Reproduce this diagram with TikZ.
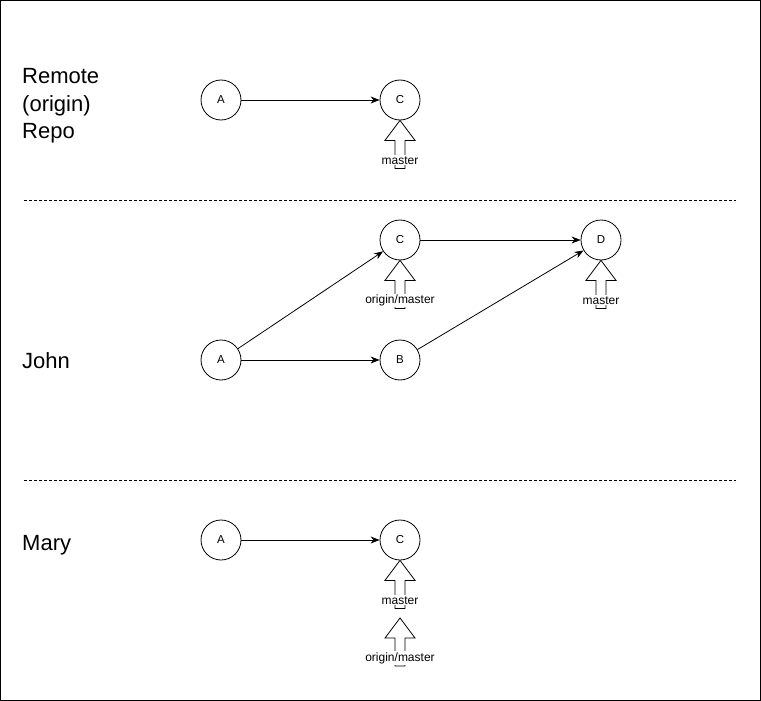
\documentclass[tikz,border=0pt]{standalone}
\usepackage{fontspec}
\setmainfont{Liberation Sans}
\usetikzlibrary{arrows.meta}
\begin{document}
\begin{tikzpicture}[x=1pt,y=-1pt,
  commit/.style={circle, draw, line width=0.8pt, minimum size=40pt, inner sep=0pt, font=\fontsize{11.5}{13}\selectfont},
  link/.style={draw, line width=0.8pt, -{Stealth[length=9pt,width=7pt]}},
  lane/.style={anchor=base west, align=left, inner sep=0pt, font=\fontsize{22}{27.7}\selectfont},
  sep/.style={dashed, line width=0.6pt, dash pattern=on 3pt off 2pt},
  reflabel/.style={fill=white, inner sep=1pt, font=\fontsize{12}{13}\selectfont},
  pics/pointer/.style={code={
    \draw[fill=white, line width=0.8pt] (0,0) -- (15,20) -- (5,20) -- (5,48) -- (-5,48) -- (-5,20) -- (-15,20) -- cycle;
    \node[reflabel] at (0,40) {#1};
  }}]
\useasboundingbox (0,0) rectangle (761,701);
\draw[line width=0.8pt] (0.5,0.5) rectangle (760.5,700.5);

% lane labels (base anchor sits on the last line's baseline)
\node[lane] (lremote) at (22,138.7) {Remote\\(origin)\\Repo};
\node[lane] (ljohn) at (22,368) {John};
\node[lane] (lmary) at (22,550) {Mary};

% lane separators
\coordinate (s1a) at (24,200); \coordinate (s1b) at (736,200);
\coordinate (s2a) at (24,480); \coordinate (s2b) at (736,480);
\draw[sep] (s1a) -- (s1b);
\draw[sep] (s2a) -- (s2b);

% remote repository
\node[commit] (rA) at (221,100) {A};
\node[commit] (rC) at (400,100) {C};
\draw[link] (rA) -- (rC);
\pic at (rC.south) {pointer=master};

% John's clone
\node[commit] (jA) at (221,360) {A};
\node[commit] (jB) at (400,360) {B};
\node[commit] (jC) at (400,240) {C};
\node[commit] (jD) at (601,240) {D};
\draw[link] (jA) -- (jB);
\draw[link] (jA) -- (jC);
\draw[link] (jC) -- (jD);
\draw[link] (jB) -- (jD);
\pic at (jC.south) {pointer=origin/master};
\pic at (jD.south) {pointer=master};

% Mary's clone
\node[commit] (mA) at (221,540) {A};
\node[commit] (mC) at (400,540) {C};
\draw[link] (mA) -- (mC);
\pic at (mC.south) {pointer=master};
\coordinate (mref) at (400,618);
\pic at (mref) {pointer=origin/master};
\end{tikzpicture}
\end{document}
